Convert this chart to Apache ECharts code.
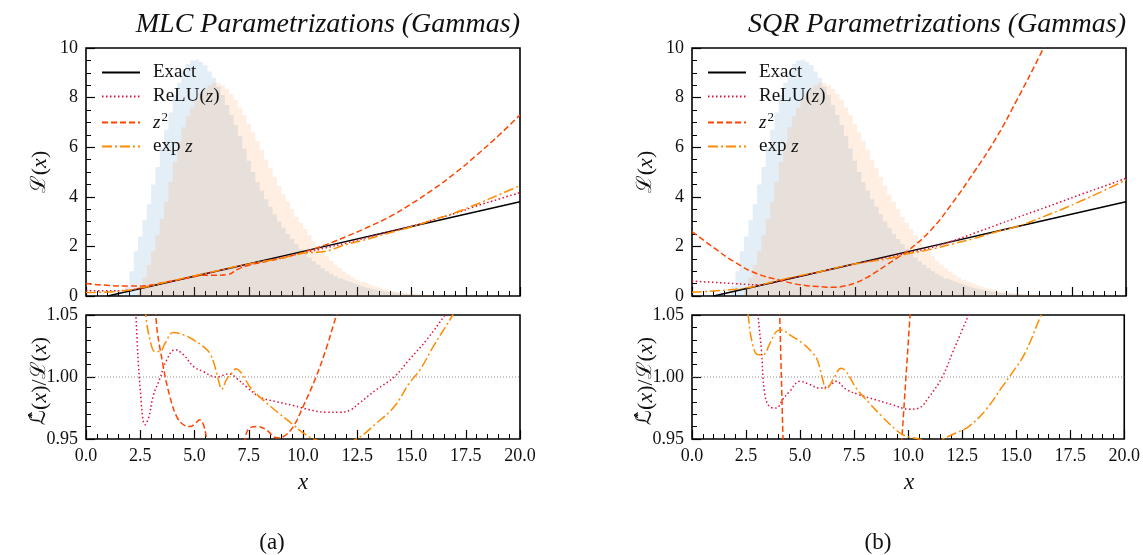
<!DOCTYPE html>
<html lang="en">
<head>
<meta charset="UTF-8">
<title>MLC / SQR Parametrizations (Gammas)</title>
<script src="https://cdn.jsdelivr.net/npm/echarts@6/dist/echarts.min.js"></script>
<style>
    html, body { margin: 0; padding: 0; background: #fff; }
    #main { width: 1143px; height: 555px; }
</style>
</head>
<body>
<div id="main"></div>
<script>
// histogram bins, width 0.2 from 0 to 20 (100 bins)
var binWidth = 0.2;
var blueCounts = [
    0, 0, 0, 0, 0, 0, 0, 0, 0.05, 0.4,
    1.0, 1.8, 2.4, 3.05, 3.7, 4.5, 5.2, 6.0, 6.7, 7.4,
    8.1, 8.6, 9.05, 9.35, 9.5, 9.55, 9.45, 9.3, 9.05, 8.8,
    8.45, 8.1, 7.7, 7.3, 6.9, 6.45, 5.95, 5.45, 5.0, 4.6,
    4.25, 3.9, 3.6, 3.3, 3.0, 2.75, 2.5, 2.3, 2.1, 1.9,
    1.72, 1.55, 1.4, 1.26, 1.12, 1.0, 0.9, 0.8, 0.71, 0.63,
    0.56, 0.49, 0.43, 0.37, 0.32, 0.28, 0.24, 0.21, 0.18, 0.15,
    0.13, 0.11, 0.09, 0.08, 0.07, 0.06, 0.05, 0.04, 0.035, 0.03,
    0.025, 0.02, 0.015, 0.01, 0.01, 0.005, 0, 0, 0, 0,
    0, 0, 0, 0, 0, 0, 0, 0, 0, 0
];
var orangeCounts = [
    0, 0, 0, 0, 0, 0, 0, 0, 0, 0,
    0, 0, 0.35, 0.75, 1.25, 1.8, 2.45, 3.1, 3.8, 4.6,
    5.4, 6.2, 6.8, 7.25, 7.6, 7.9, 8.15, 8.35, 8.5, 8.6,
    8.6, 8.5, 8.35, 8.15, 7.9, 7.6, 7.3, 6.95, 6.6, 6.25,
    5.9, 5.5, 5.15, 4.8, 4.45, 4.1, 3.8, 3.5, 3.2, 2.95,
    2.7, 2.45, 2.2, 2.0, 1.8, 1.6, 1.42, 1.27, 1.12, 0.99,
    0.87, 0.76, 0.66, 0.57, 0.49, 0.42, 0.36, 0.31, 0.26, 0.22,
    0.19, 0.16, 0.13, 0.11, 0.09, 0.075, 0.06, 0.05, 0.04, 0.03,
    0.025, 0.02, 0.015, 0.01, 0.01, 0.005, 0, 0, 0, 0,
    0, 0, 0, 0, 0, 0, 0, 0, 0, 0
];

// likelihood ratio curves, [x, L(x)]
var exactLine = [[1.0, 0], [5, 0.8], [10, 1.8], [15, 2.8], [20, 3.8]];

var mlcRelu = [[0, 0.22], [1, 0.21], [2, 0.24], [2.5, 0.31], [3, 0.41], [4, 0.61], [5, 0.81], [6, 1.0],
    [8, 1.37], [10, 1.74], [11, 1.93], [12, 2.14], [13, 2.37], [14, 2.6], [15, 2.81], [16, 3.07],
    [17, 3.33], [18, 3.63], [19, 3.9], [20, 4.17]];
var mlcSqr = [[0, 0.5], [1, 0.43], [2, 0.4], [2.5, 0.4], [3, 0.44], [3.5, 0.53], [4, 0.61], [4.5, 0.69],
    [5, 0.78], [5.5, 0.84], [6, 0.84], [6.5, 0.86], [7, 1.08], [7.5, 1.24], [8, 1.34], [8.5, 1.43],
    [9, 1.52], [9.5, 1.63], [10, 1.76], [10.5, 1.9], [11, 2.05], [11.5, 2.22], [12, 2.4], [13, 2.78],
    [14, 3.2], [15, 3.72], [16, 4.3], [17, 4.95], [18, 5.68], [19, 6.46], [20, 7.3]];
var mlcExp = [[0, 0.14], [1, 0.16], [2, 0.24], [2.5, 0.33], [3, 0.41], [3.5, 0.52], [4, 0.62], [5, 0.82],
    [6, 1.01], [7, 1.21], [8, 1.37], [9, 1.52], [10, 1.72], [11, 1.8], [12, 2.08], [13, 2.3],
    [14, 2.55], [15, 2.79], [16, 3.07], [17, 3.36], [18, 3.7], [19, 4.07], [20, 4.45]];

var sqrRelu = [[0, 0.6], [1, 0.55], [2, 0.5], [2.5, 0.47], [3, 0.45], [3.5, 0.5], [4, 0.59], [5, 0.8],
    [6, 0.99], [7, 1.19], [8, 1.38], [9, 1.56], [10, 1.75], [11, 1.95], [12, 2.22], [13, 2.53],
    [14, 2.85], [15, 3.17], [16, 3.48], [17, 3.8], [18, 4.12], [19, 4.43], [20, 4.75]];
var sqrSqr = [[0, 2.6], [1, 1.95], [2, 1.35], [3, 0.9], [4, 0.65], [5, 0.45], [6, 0.37], [6.5, 0.35],
    [7, 0.4], [7.5, 0.52], [8, 0.72], [8.5, 0.98], [9, 1.27], [9.5, 1.56], [10, 1.86], [11, 2.65],
    [12, 3.75], [13, 5.0], [14, 6.35], [15, 7.95], [16, 9.65], [16.4, 10.4]];
var sqrExp = [[0, 0.15], [1, 0.2], [2, 0.27], [2.5, 0.33], [3, 0.41], [3.5, 0.52], [4, 0.63], [5, 0.83],
    [6, 1.0], [7, 1.21], [8, 1.36], [9, 1.5], [10, 1.71], [11, 1.88], [12, 2.1], [13, 2.32],
    [14, 2.58], [15, 2.81], [16, 3.13], [17, 3.48], [18, 3.86], [19, 4.26], [20, 4.68]];

// ratio to exact, [x, Lhat/L]
var mlcReluRatio = [[2.2, 1.1], [2.3, 1.05], [2.5, 0.99], [2.72, 0.9615], [2.9, 0.968], [3.1, 0.985],
    [3.41, 0.999], [3.7, 1.013], [4.1, 1.022], [4.49, 1.018], [4.95, 1.0085], [5.4, 1.0044], [6.0, 1.0],
    [6.6, 1.0025], [6.94, 0.999], [7.4, 0.992], [8.0, 0.984], [8.8, 0.98], [9.55, 0.977], [10.3, 0.9736],
    [11.1, 0.9715], [11.7, 0.9715], [12.2, 0.9736], [12.6, 0.979], [13.4, 0.99], [14.2, 1.0], [14.9, 1.014],
    [15.7, 1.03], [16.55, 1.05], [17, 1.06]];
var mlcSqrRatio = [[3.0, 1.2], [3.22, 1.05], [3.56, 1.0085], [3.87, 0.984], [4.18, 0.968], [4.49, 0.9615],
    [4.8, 0.96], [5.0, 0.962], [5.25, 0.9655], [5.4, 0.962], [5.56, 0.95], [5.7, 0.93], [6.3, 0.8],
    [7.0, 0.9], [7.33, 0.95], [7.56, 0.959], [7.94, 0.96], [8.3, 0.9575], [8.8, 0.951], [9.1, 0.952],
    [9.55, 0.96], [10.0, 0.976], [10.6, 1.0], [11.1, 1.0245], [11.55, 1.05], [12, 1.07]];
var mlcExpRatio = [[2.6, 1.1], [2.76, 1.05], [2.95, 1.03], [3.18, 1.0205], [3.41, 1.0205], [3.64, 1.027],
    [4.02, 1.0358], [4.49, 1.034], [4.95, 1.03], [5.41, 1.0245], [5.71, 1.019], [5.94, 1.0085],
    [6.14, 0.995], [6.25, 0.99], [6.48, 0.998], [6.71, 1.003], [6.91, 1.0066], [7.17, 1.003],
    [7.56, 0.992], [8.0, 0.984], [8.8, 0.972], [9.55, 0.9615], [10.0, 0.955], [10.5, 0.95],
    [11.5, 0.945], [12.47, 0.95], [13.4, 0.963], [14.2, 0.976], [14.9, 0.995], [15.4, 1.006],
    [16.0, 1.0245], [16.9, 1.05], [17.2, 1.06]];

var sqrReluRatio = [[3.0, 1.08], [3.06, 1.05], [3.21, 1.022], [3.36, 0.987], [3.6, 0.976], [3.9, 0.975],
    [4.2, 0.982], [4.5, 0.988], [5.0, 0.9965], [5.44, 0.994], [5.9, 0.991], [6.36, 0.993], [6.67, 0.9965],
    [7.13, 0.99], [7.74, 0.9857], [8.5, 0.9816], [9.28, 0.9776], [10.05, 0.974], [10.5, 0.975],
    [10.97, 0.984], [11.58, 1.0], [12.04, 1.019], [12.5, 1.038], [12.8, 1.05], [13.0, 1.058]];
var sqrSqrRatio = [[3.8, 1.2], [4.06, 1.05], [4.21, 0.95], [4.5, 0.8], [9.4, 0.8], [9.71, 0.95],
    [10.09, 1.05], [10.4, 1.2]];
var sqrExpRatio = [[2.5, 1.08], [2.6, 1.05], [2.83, 1.0245], [3.06, 1.018], [3.29, 1.018], [3.6, 1.027],
    [3.9, 1.0366], [4.13, 1.038], [4.52, 1.034], [5.13, 1.027], [5.6, 1.019], [5.8, 1.0138], [6.05, 0.998],
    [6.2, 0.99], [6.36, 0.9928], [6.59, 1.0], [6.9, 1.007], [7.13, 1.0045], [7.6, 0.991], [8.2, 0.979],
    [8.8, 0.968], [9.43, 0.9575], [9.74, 0.9535], [10.05, 0.9516], [10.5, 0.95], [11.0, 0.947],
    [11.58, 0.95], [12.2, 0.9548], [12.8, 0.96], [13.6, 0.9736], [14.35, 0.992], [14.8, 1.003],
    [15.4, 1.019], [16.15, 1.05], [16.4, 1.06]];

var unityLine = [[0, 1], [20, 1]];

var serif = '"Liberation Serif", "DejaVu Serif", serif';
var ink = '#111';

function histData(counts) {
    var out = [];
    for (var i = 0; i < counts.length; i++) {
        out.push([i * binWidth, counts[i]]);
    }
    out.push([counts.length * binWidth, counts[counts.length - 1]]);
    return out;
}

var styles = {
    'Exact':   { color: '#000000', type: 'solid' },
    'ReLU(z)': { color: '#dc143c', type: [1.5, 2.5] },
    'z^2':     { color: '#ff4500', type: [6, 3] },
    'exp z':   { color: '#ff8c00', type: [10, 3, 2, 3] }
};

function curve(name, data, idx, smooth) {
    var s = styles[name];
    return {
        name: name, type: 'line', xAxisIndex: idx, yAxisIndex: idx,
        data: data, symbol: 'none', showSymbol: false, smooth: smooth, z: 4,
        itemStyle: { color: s.color },
        lineStyle: { color: s.color, width: 1.5, type: s.type }
    };
}

function hist(counts, color, idx) {
    return {
        type: 'line', step: 'end', xAxisIndex: idx, yAxisIndex: idx,
        data: histData(counts), symbol: 'none', z: 1,
        lineStyle: { width: 0 },
        areaStyle: { color: color, opacity: 1 }
    };
}

function unity(idx) {
    return {
        type: 'line', xAxisIndex: idx, yAxisIndex: idx, data: unityLine, symbol: 'none', z: 2,
        lineStyle: { color: '#8a8a8a', width: 1, type: [1, 2] }
    };
}

var grids = [
    { left: 86, top: 48, width: 434, height: 248 },
    { left: 86, top: 315, width: 434, height: 124 },
    { left: 692, top: 48, width: 434, height: 248 },
    { left: 692, top: 315, width: 434, height: 124 }
];
grids.forEach(function (g) {
    g.show = true;
    g.borderColor = '#000';
    g.borderWidth = 1.6;
    g.backgroundColor = 'transparent';
});

function xAxis(idx, labels) {
    return {
        type: 'value', gridIndex: idx, min: 0, max: 20, interval: 2.5,
        axisLine: { show: false },
        axisTick: { show: true, inside: true, length: 9, lineStyle: { color: '#000', width: 1.2 } },
        minorTick: { show: true, splitNumber: 5, length: 5, lineStyle: { color: '#000', width: 1 } },
        splitLine: { show: false },
        axisLabel: {
            show: labels, margin: 8, color: ink, fontFamily: serif, fontSize: 18,
            formatter: function (v) { return v.toFixed(1); }
        }
    };
}

function yAxisTop(idx) {
    return {
        type: 'value', gridIndex: idx, min: 0, max: 10, interval: 2,
        axisLine: { show: false },
        axisTick: { show: true, inside: true, length: 9, lineStyle: { color: '#000', width: 1.2 } },
        minorTick: { show: true, splitNumber: 4, length: 5, lineStyle: { color: '#000', width: 1 } },
        splitLine: { show: false },
        axisLabel: { margin: 8, color: ink, fontFamily: serif, fontSize: 18 }
    };
}

function yAxisRatio(idx) {
    return {
        type: 'value', gridIndex: idx, min: 0.95, max: 1.05, interval: 0.05,
        axisLine: { show: false },
        axisTick: { show: true, inside: true, length: 9, lineStyle: { color: '#000', width: 1.2 } },
        minorTick: { show: true, splitNumber: 5, length: 5, lineStyle: { color: '#000', width: 1 } },
        splitLine: { show: false },
        axisLabel: {
            margin: 8, color: ink, fontFamily: serif, fontSize: 18,
            formatter: function (v) { return v.toFixed(2); }
        }
    };
}

var legendNames = ['Exact', 'ReLU(z)', 'z^2', 'exp z'];
var legendText = {
    'Exact': '{rm|Exact}',
    'ReLU(z)': '{rm|ReLU(}{it|z}{rm|)}',
    'z^2': '{it|z}{sup|2}',
    'exp z': '{rm|exp }{it|z}'
};
var legendRich = {
    rm: { fontFamily: serif, fontSize: 19, color: ink },
    it: { fontFamily: serif, fontStyle: 'italic', fontSize: 19, color: ink },
    sup: { fontFamily: serif, fontSize: 13, color: ink, padding: [0, 0, 10, 1] }
};

function legend(left) {
    return {
        data: legendNames, left: left, top: 58, orient: 'vertical',
        itemWidth: 38, itemHeight: 12, itemGap: 5,
        selectedMode: false,
        itemStyle: { opacity: 0 },
        textStyle: { padding: [0, 0, 0, 8], rich: legendRich },
        formatter: function (name) { return legendText[name]; }
    };
}

var lRich = {
    L: { fontFamily: '"DejaVu Serif", serif', fontSize: 21, color: ink },
    H: { fontFamily: '"DejaVu Sans", serif', fontSize: 21, color: ink },
    p: { fontFamily: serif, fontSize: 22, color: ink },
    i: { fontFamily: serif, fontStyle: 'italic', fontSize: 22, color: ink }
};

function textEl(x, y, text, font, rot, align) {
    return {
        type: 'text', x: x, y: y, rotation: rot || 0,
        style: {
            text: text, font: font, fill: ink, rich: lRich,
            align: align || 'center', verticalAlign: 'middle'
        }
    };
}

var graphics = [];
[[0, 'MLC Parametrizations (Gammas)', '(a)'], [606, 'SQR Parametrizations (Gammas)', '(b)']].forEach(function (p) {
    var dx = p[0];
    graphics.push(textEl(520 + dx, 25, p[1], 'italic 28px ' + serif, 0, 'right'));
    graphics.push(textEl(303 + dx, 483, 'x', 'italic 23px ' + serif));
    graphics.push(textEl(272 + dx, 543, p[2], '23px ' + serif));
    graphics.push(textEl(40 + dx, 172, '{L|ℒ}{p|(}{i|x}{p|)}', '22px ' + serif, Math.PI / 2));
    graphics.push(textEl(40 + dx, 381, '{H|ℒ\u0302}{p|(}{i|x}{p|)/}{L|ℒ}{p|(}{i|x}{p|)}', '22px ' + serif, Math.PI / 2));
});

var series = [
    hist(blueCounts, 'rgba(31,119,180,0.12)', 0),
    hist(orangeCounts, 'rgba(255,127,14,0.12)', 0),
    curve('Exact', exactLine, 0, false),
    curve('ReLU(z)', mlcRelu, 0, true),
    curve('z^2', mlcSqr, 0, true),
    curve('exp z', mlcExp, 0, true),
    unity(1),
    curve('ReLU(z)', mlcReluRatio, 1, 0.4),
    curve('z^2', mlcSqrRatio, 1, 0.4),
    curve('exp z', mlcExpRatio, 1, 0.4),

    hist(blueCounts, 'rgba(31,119,180,0.12)', 2),
    hist(orangeCounts, 'rgba(255,127,14,0.12)', 2),
    curve('Exact', exactLine, 2, false),
    curve('ReLU(z)', sqrRelu, 2, true),
    curve('z^2', sqrSqr, 2, true),
    curve('exp z', sqrExp, 2, true),
    unity(3),
    curve('ReLU(z)', sqrReluRatio, 3, 0.4),
    curve('z^2', sqrSqrRatio, 3, false),
    curve('exp z', sqrExpRatio, 3, 0.4)
];

var myChart = echarts.init(document.getElementById('main'));
var option = {
    animation: false,
    backgroundColor: '#fff',
    grid: grids,
    xAxis: [xAxis(0, false), xAxis(1, true), xAxis(2, false), xAxis(3, true)],
    yAxis: [yAxisTop(0), yAxisRatio(1), yAxisTop(2), yAxisRatio(3)],
    legend: [legend(96), legend(702)],
    graphic: graphics,
    series: series
};
myChart.setOption(option);
</script>
</body>
</html>
